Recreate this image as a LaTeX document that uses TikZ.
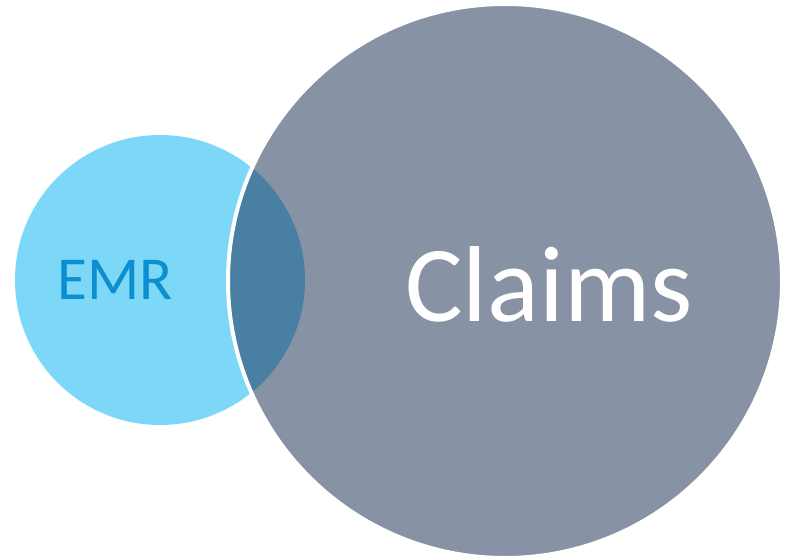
\documentclass[tikz,border=0pt]{standalone}
\usepackage{fontspec}
\setmainfont{Carlito}
\usepackage{tikz}
\usetikzlibrary{positioning}
\usepackage{xcolor}
\definecolor{emrblue}{HTML}{7DD7F7}
\definecolor{emrtext}{HTML}{0B8FD1}
\definecolor{claimsgray}{HTML}{8892A5}
\definecolor{overlapblue}{HTML}{4A7FA4}
\tikzset{
  setcircle/.style={circle, inner sep=0pt, outer sep=0pt},
}

\begin{document}
\begin{tikzpicture}[x=1pt, y=-1pt]
  \useasboundingbox (0,0) rectangle (787,559);
  % the two sets
  \node[setcircle, minimum size=290pt, fill=emrblue] (emr) at (160,280) {};
  \node[setcircle, minimum size=554pt, fill=claimsgray] (claims) at (505,281) {};
  % overlap
  \begin{scope}
    \clip (emr.center) circle[radius=145pt];
    \fill[overlapblue] (claims.center) circle[radius=277pt];
  \end{scope}
  \draw[white, line width=4pt] (claims.center) circle[radius=277pt];
  % labels
  \node[font=\fontsize{61}{61}\selectfont, text=emrtext] (emrlabel) at (115,280) {EMR};
  \node[font=\fontsize{108}{108}\selectfont, text=white] (claimslabel) at (549,284) {Claims};
\end{tikzpicture}
\end{document}
